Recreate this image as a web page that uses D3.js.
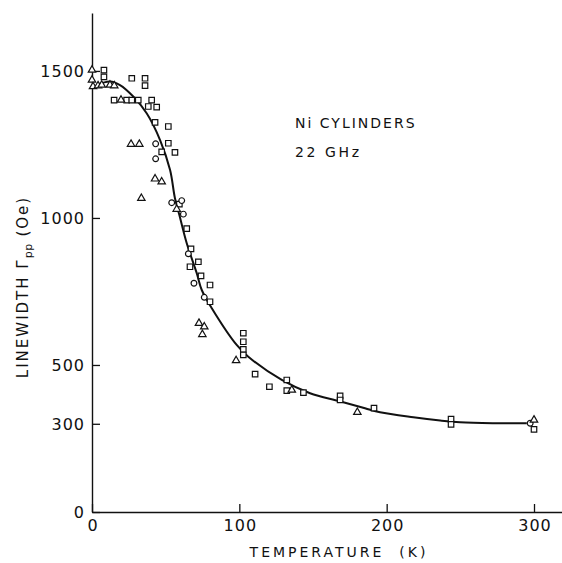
<!DOCTYPE html>
<html>
<head>
<meta charset="utf-8">
<script src="https://cdn.jsdelivr.net/npm/d3@7"></script>
<style>
  body { margin: 0; background: #fff; }
  svg { display: block; font-family: "DejaVu Sans", sans-serif; }
  text { fill: #111; white-space: pre; }
</style>
</head>
<body>
<svg id="chart" width="562" height="563"></svg>
<script>
// temperature (K), linewidth (Oe)
var squareT = [8.1, 8.1, 27, 36, 36, 15, 23.5, 27, 31.4, 40.5, 38.2, 43.9, 42.8, 51.8, 51.8, 47.3, 56.3,
  59.3, 64.3, 67.2, 72.2, 66.5, 74, 80.1, 80.1, 102.7, 102.7, 102.7, 102.7, 110.7, 120.4, 132.2, 132.2,
  143.5, 168.4, 168.4, 191.4, 243.7, 243.7, 300];
var squareL = [1503, 1480, 1475, 1475, 1450, 1401, 1401, 1401, 1401, 1401, 1379, 1377, 1325, 1311, 1254, 1225, 1223,
  1047, 964, 895, 851, 834, 803, 772, 715, 608, 579, 553, 534, 469, 426, 449, 413,
  406, 395, 381, 353, 316, 298, 281];

var circleT = [43.2, 43.2, 54.1, 60.9, 62, 65.4, 69.2, 76.2, 297.4];
var circleL = [1252, 1201, 1052, 1059, 1013, 878, 778, 730, 302];

var triangleT = [0, 0, 0.7, 4.1, 6.6, 12.2, 15.1, 19.7, 26.5, 32.1, 42.8, 47.3, 33.5, 57.5, 72.6, 76.2, 74.9,
  97.8, 135.6, 180.1, 300];
var triangleL = [1503, 1469, 1447, 1450, 1452, 1452, 1450, 1401, 1251, 1251, 1133, 1123, 1067, 1030, 642, 630, 604,
  515, 415, 339, 313];

// hand-drawn fit curve
var fitT = [3.2, 12.2, 19, 28, 37.1, 46.2, 53, 56.3, 59.3, 64.3, 71.1, 74.5, 81.3, 98.2, 106.1, 128.8,
  148, 168, 185.3, 195.5, 218.1, 236.3, 249.8, 272, 295.1];
var fitL = [1452, 1464, 1452, 1413, 1356, 1265, 1163, 1067, 1010, 914, 812, 755, 693, 568, 528, 449,
  404, 377, 353, 339, 322, 311, 305, 302, 302];

var xTicks = [0, 100, 200, 300];
var yTicks = [0, 300, 500, 1000, 1500];

var svg = d3.select('#chart');

var x = d3.scaleLinear().domain([0, 319]).range([92, 562]);
var y = d3.scaleLinear().domain([0, 1697]).range([512, 13]);

function zip(a, b) {
  return a.map(function(v, i) { return [v, b[i]]; });
}

// axes
var xAxis = d3.axisBottom(x).tickValues(xTicks).tickFormat(d3.format('d'))
  .tickSize(-8).tickSizeOuter(0).tickPadding(8);
var yAxis = d3.axisLeft(y).tickValues(yTicks).tickFormat(d3.format('d'))
  .tickSize(-8).tickSizeOuter(0).tickPadding(7);

var gx = svg.append('g').attr('transform', 'translate(0,512)').call(xAxis);
var gy = svg.append('g').attr('transform', 'translate(92,0)').call(yAxis);

[gx, gy].forEach(function(g) {
  g.select('.domain').attr('stroke', '#111').attr('stroke-width', 1.4);
  g.selectAll('.tick line').attr('stroke', '#111').attr('stroke-width', 1.3);
  g.selectAll('.tick text')
    .attr('font-family', '"DejaVu Sans", sans-serif')
    .attr('font-size', 16)
    .attr('letter-spacing', 1)
    .attr('fill', '#111');
});
gy.selectAll('.tick text').attr('dy', '0.36em');
gx.selectAll('.tick text').attr('dx', 0.5);

// fit line
var line = d3.line()
  .x(function(d) { return x(d[0]); })
  .y(function(d) { return y(d[1]); })
  .curve(d3.curveCatmullRom.alpha(0.5));

svg.append('path')
  .datum(zip(fitT, fitL))
  .attr('d', line)
  .attr('fill', 'none')
  .attr('stroke', '#111')
  .attr('stroke-width', 2);

// markers
function drawMarkers(ts, ls, type, size) {
  var sym = d3.symbol().type(type).size(size);
  svg.append('g').selectAll('path')
    .data(zip(ts, ls))
    .enter().append('path')
    .attr('transform', function(d) { return 'translate(' + x(d[0]) + ',' + y(d[1]) + ')'; })
    .attr('d', sym)
    .attr('fill', '#fff')
    .attr('stroke', '#111')
    .attr('stroke-width', 1.2);
}

drawMarkers(squareT, squareL, d3.symbolSquare, 30);
drawMarkers(circleT, circleL, d3.symbolCircle, 26);
drawMarkers(triangleT, triangleL, d3.symbolTriangle, 24);

// labels
svg.append('text')
  .attr('x', 295).attr('y', 128)
  .attr('font-size', 14).attr('letter-spacing', 2)
  .text('Ni CYLINDERS');

svg.append('text')
  .attr('x', 295).attr('y', 157)
  .attr('font-size', 14).attr('letter-spacing', 2.6)
  .text('22 GHz');

svg.append('text')
  .attr('x', 339).attr('y', 557)
  .attr('text-anchor', 'middle')
  .attr('font-size', 14).attr('letter-spacing', 3)
  .text('TEMPERATURE  (K)');

var yTitle = svg.append('text')
  .attr('transform', 'translate(28,287) rotate(-90)')
  .attr('text-anchor', 'middle')
  .attr('font-size', 15).attr('letter-spacing', 2);
yTitle.append('tspan').text('LINEWIDTH Γ');
yTitle.append('tspan').attr('dy', 4).attr('font-size', 11).attr('letter-spacing', 0.5).text('pp');
yTitle.append('tspan').attr('dy', -4).text(' (Oe)');
</script>
</body>
</html>
